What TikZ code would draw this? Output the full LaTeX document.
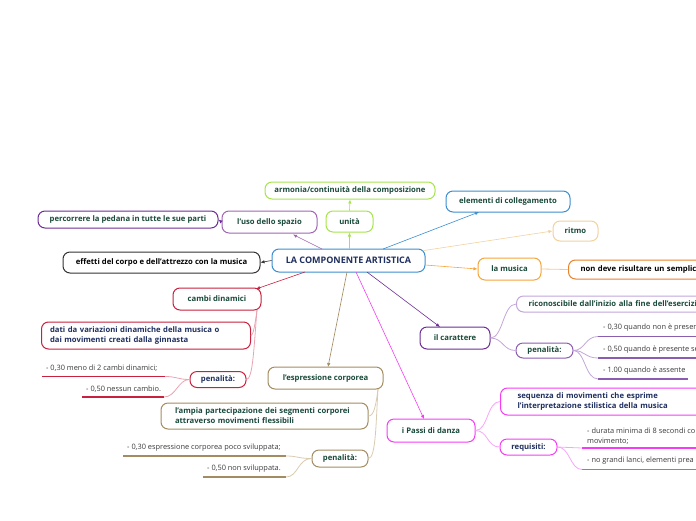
\documentclass[tikz,border=0pt]{standalone}
\usepackage{fontspec}
\setmainfont{Open Sans}
\usetikzlibrary{arrows.meta}
\definecolor{tgreen}{HTML}{1A4A3A}
\definecolor{navy}{HTML}{1F2F5F}
\definecolor{leafgray}{HTML}{3A3A3A}
\definecolor{cblue}{HTML}{3C8ED0}
\definecolor{clime}{HTML}{A6E44A}
\definecolor{cpurpl}{HTML}{A066B0}
\definecolor{cpurpd}{HTML}{6E2D96}
\definecolor{cpurpm}{HTML}{8A5DB0}
\definecolor{cpurpx}{HTML}{C2A6D8}
\definecolor{cpeach}{HTML}{F2D29E}
\definecolor{corange}{HTML}{F6A53A}
\definecolor{corangd}{HTML}{E8822A}
\definecolor{ccrim}{HTML}{C8203E}
\definecolor{cpink}{HTML}{E9A3B2}
\definecolor{ctan}{HTML}{A38C62}
\definecolor{ctanl}{HTML}{D9CBB0}
\definecolor{cmag}{HTML}{F53CF5}
\definecolor{cmagl}{HTML}{F7A6F7}
\tikzset{
 box/.style={draw=#1, fill=white, line width=1pt, rounded corners=7pt,
   font=\fontsize{7.7}{10}\selectfont\bfseries, text=tgreen, inner sep=0pt, align=center},
 arr/.style={draw=#1, line width=0.6pt, -{Latex[length=4pt,width=3.5pt]}},
 link/.style={draw=#1, line width=0.8pt},
 uline/.style={draw=#1, line width=1.8pt},
 leaf/.style={font=\fontsize{7.4}{9.5}\selectfont, text=leafgray, inner sep=0pt, anchor=west, align=left},
}
\begin{document}
\begin{tikzpicture}[x=1pt,y=-1pt]
\useasboundingbox (0,0) rectangle (696,520);
\clip (0,0) rectangle (696,520);

% central
\node[box=cblue, minimum width=153pt, minimum height=23pt, text=navy,
  font=\fontsize{9}{10}\selectfont\bfseries] (c) at (348.5,260.5) {LA COMPONENTE ARTISTICA};

% top
\node[box=clime, minimum width=47pt, minimum height=21pt] (unita) at (349.5,221.5) {unità};
\node[box=clime, minimum width=170pt, minimum height=17pt] (armonia) at (350,190.5) {armonia/continuità della composizione};
\node[box=cpurpl, minimum width=95pt, minimum height=22pt] (uso) at (269.5,222) {l'uso dello spazio};
\node[box=cpurpd, minimum width=180pt, minimum height=17pt] (perc) at (128,219.5) {percorrere la pedana in tutte le sue parti};
\node[box=black!80, minimum width=197pt, minimum height=21pt, text=black] (eff) at (161.5,262.5) {effetti del corpo e dell'attrezzo con la musica};
\node[box=cblue, minimum width=124pt, minimum height=21pt] (elem) at (508,201.5) {elementi di collegamento};
\node[box=cpeach, minimum width=45pt, minimum height=20pt] (ritmo) at (575.5,231) {ritmo};
\node[box=corange, minimum width=63pt, minimum height=22pt] (mus) at (509.5,269) {la musica};
\node[box=corangd, minimum height=19pt, anchor=west, text width=150pt, align=left, inner xsep=12pt, text=black] (nondeve) at (568,269.5) {non deve risultare un semplice};

% cambi dinamici
\node[box=ccrim, minimum width=88pt, minimum height=22pt] (cambi) at (217,299) {cambi dinamici};
\node[box=ccrim, minimum width=209pt, minimum height=27pt, text width=192pt, align=left, text=navy] (dati) at (146,335.5) {dati da variazioni dinamiche della musica o\\dai movimenti creati dalla ginnasta};
\node[box=ccrim, minimum width=56pt, minimum height=16pt, text=navy] (pen1) at (218,379.5) {penalità:};
\coordinate (a1) at (42,376.5); \coordinate (b1) at (165,376.5);
\coordinate (a2) at (82,397); \coordinate (b2) at (164,397);
\draw[uline=ccrim] (a1) -- (b1);
\draw[uline=ccrim] (a2) -- (b2);
\node[leaf] (t1) at (46,368) {- 0,30 meno di 2 cambi dinamici;};
\node[leaf] (t2) at (86,389) {- 0,50 nessun cambio.};

% il carattere
\node[box=cpurpd, minimum width=70pt, minimum height=22pt] (car) at (455,338) {il carattere};
\node[box=cpurpx, minimum height=16pt, anchor=west, text width=190pt, align=left, inner xsep=12pt] (ric) at (516,304) {riconoscibile dall'inizio alla fine dell'esercizio};
\node[box=cpurpm, minimum width=57pt, minimum height=15pt] (pen2) at (544.5,350.5) {penalità:};
\coordinate (a3) at (598,336.5); \coordinate (b3) at (720,336.5);
\coordinate (a4) at (598,358); \coordinate (b4) at (720,358);
\coordinate (a5) at (598,379); \coordinate (b5) at (688,379);
\draw[uline=cpurpm] (a3) -- (b3);
\draw[uline=cpurpm] (a4) -- (b4);
\draw[uline=cpurpm] (a5) -- (b5);
\node[leaf] (t3) at (603,328) {- 0,30 quando non è presente};
\node[leaf] (t4) at (603,350) {- 0,50 quando è presente se};
\node[leaf] (t5) at (603,371) {- 1.00 quando è assente};

% espressione corporea
\node[box=ctan, minimum width=115pt, minimum height=22pt] (espr) at (325.5,378) {l'espressione corporea};
\node[box=ctan, minimum width=207pt, minimum height=26pt, text width=191pt, align=left] (ampia) at (264.5,416) {\hspace*{6pt}l'ampia partecipazione dei segmenti corporei\\\hspace*{6pt}attraverso movimenti flessibili};
\node[box=ctan, minimum width=56pt, minimum height=17pt] (pen3) at (340,458.5) {penalità:};
\coordinate (a6) at (123,456); \coordinate (b6) at (286,456);
\coordinate (a7) at (203,477); \coordinate (b7) at (286,477);
\draw[uline=ctan] (a6) -- (b6);
\draw[uline=ctan] (a7) -- (b7);
\node[leaf] (t6) at (127,448) {- 0,30 espressione corporea poco sviluppata;};
\node[leaf] (t7) at (207,469) {- 0,50 non sviluppata.};

% passi di danza
\node[box=cmag, minimum width=88pt, minimum height=23pt] (passi) at (431,430.5) {i Passi di danza};
\node[box=cmag, minimum height=27pt, anchor=west, text width=200pt, align=left, inner xsep=17pt, text=navy] (seq) at (500,401.5) {sequenza di movimenti che esprime\\l'interpretazione stilistica della musica};
\node[box=cmag, minimum width=57pt, minimum height=16pt, text=navy] (req) at (528.5,447) {requisiti:};
\coordinate (a8) at (582,448); \coordinate (b8) at (720,448);
\coordinate (a9) at (582,469.5); \coordinate (b9) at (720,469.5);
\draw[uline=cmag] (a8) -- (b8);
\draw[uline=cmag] (a9) -- (b9);
\node[leaf] (t8) at (587,436) {- durata minima di 8 secondi co\\movimento;};
\node[leaf] (t9) at (587,461) {- no grandi lanci, elementi prea};

% arrows from central
\draw[arr=clime] (c.north -| unita) -- (unita.south);
\draw[arr=clime] (unita.north) -- (armonia.south);
\draw[arr=cpurpl] (322,249) -- (293,234.5) coordinate (usoin);
\draw[arr=cpurpd] (uso.west) -- (perc.east);
\draw[arr=black!80] (c.west) -- (eff.east);
\draw[arr=cblue] (383,249) -- (479,212) coordinate (elemin);
\draw[arr=cpeach] (424,250.5) -- (ritmo.west);
\draw[arr=corange] (425,265) -- (mus.west);
\draw[link=corange!60] (mus.east) -- (nondeve.west);
\draw[arr=ccrim] (305,272) -- (256,289);
\draw[arr=cpurpd] (367,272) -- (440,327);
\draw[arr=ctan] (347,272) -- (328,367);
\draw[arr=cmag] (356,272) -- (424,419);

% curved links
\coordinate (cb) at (257,310);
\draw[link=cpink] (cb) .. controls (255,325) and (253,336) .. (dati.east);
\draw[link=cpink] (cb) .. controls (254,345) and (253,379.5) .. (pen1.east);
\draw[link=cpink] (pen1.west) .. controls (178,379.5) and (177,376.5) .. (b1);
\draw[link=cpink] (pen1.west) .. controls (178,379.5) and (176,397) .. (b2);

\draw[link=cpurpx] (car.east) .. controls (503,338) and (503,304) .. (ric.west);
\draw[link=cpurpx] (car.east) .. controls (503,338) and (503,350.5) .. (pen2.west);
\draw[link=cpurpx] (pen2.east) .. controls (585,350.5) and (585,336.5) .. (a3);
\draw[link=cpurpx] (pen2.east) .. controls (585,350.5) and (585,358) .. (a4);
\draw[link=cpurpx] (pen2.east) .. controls (585,350.5) and (585,379) .. (a5);

\coordinate (eb) at (378,389);
\draw[link=ctanl] (eb) .. controls (376,405) and (374,416) .. (ampia.east);
\draw[link=ctanl] (eb) .. controls (376,420) and (376,458.5) .. (pen3.east);
\draw[link=ctanl] (pen3.west) .. controls (298,458.5) and (298,456) .. (b6);
\draw[link=ctanl] (pen3.west) .. controls (298,458.5) and (298,477) .. (b7);

\draw[link=cmagl] (passi.east) .. controls (488,430.5) and (487,401.5) .. (seq.west);
\draw[link=cmagl] (passi.east) .. controls (488,430.5) and (487,447) .. (req.west);
\draw[link=cmagl] (req.east) .. controls (570,447) and (570,448) .. (a8);
\draw[link=cmagl] (req.east) .. controls (570,447) and (570,469.5) .. (a9);
\end{tikzpicture}
\end{document}
